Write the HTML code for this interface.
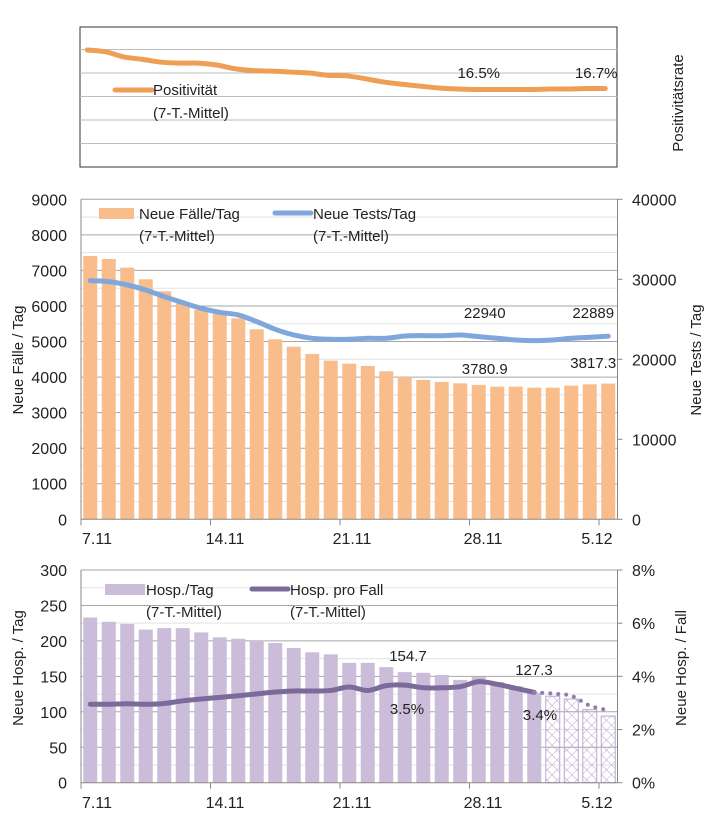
<!DOCTYPE html>
<html><head><meta charset="utf-8"><style>
html,body{margin:0;padding:0;background:#fff;}
svg{display:block;font-family:"Liberation Sans Narrow","Liberation Sans",sans-serif;}
.t{font-size:16px;fill:#222;}
.l{font-size:15px;fill:#222;}
.at{font-size:15px;fill:#222;font-family:"Liberation Sans",sans-serif;}
</style></head><body>
<svg id="c" width="709" height="833" viewBox="0 0 709 833">
<defs>
<pattern id="hatch" width="7" height="7" patternUnits="userSpaceOnUse" patternTransform="rotate(45)">
<line x1="0" y1="0" x2="0" y2="7" stroke="#b9a8cf" stroke-width="1"/>
<line x1="0" y1="3.5" x2="7" y2="3.5" stroke="#b9a8cf" stroke-width="0.6"/>
</pattern>
</defs>
<g id="top"></g><g id="mid"></g><g id="bot"></g>
</svg>
<script>
// shared categories (daily, 7.11 - 5.12)
const days = 29;
const xTickLabels = ["7.11","14.11","21.11","28.11","5.12"];
// top panel
const positivity = [24.9,24.5,23.4,22.9,22.3,22.1,22.1,21.7,20.9,20.5,20.4,20.2,20.0,19.5,19.4,18.8,18.1,17.6,17.2,16.8,16.6,16.5,16.5,16.5,16.5,16.6,16.6,16.7,16.7];
// middle panel
const cases = [7406,7322,7078,6750,6413,6075,5888,5775,5653,5344,5063,4856,4650,4463,4378,4313,4163,4003,3919,3863,3825,3781,3731,3731,3703,3703,3759,3797,3817];
const tests = [29833,29708,29292,28667,27833,27083,26375,25875,25542,24708,23750,23042,22625,22500,22500,22625,22625,22917,22958,22940,23042,22833,22625,22417,22333,22417,22625,22750,22889];
const casesTicks = [0,1000,2000,3000,4000,5000,6000,7000,8000,9000];
const testsTicks = [0,10000,20000,30000,40000];
// bottom panel
const hosp = [233,227,224,216,218,218,212,205,203,200,197,190,184,181,169,169,163,156,155,152,145,149,142,136,127];
const hospProj = [122,118,103,94];
const hospPerCase = [2.95,2.95,2.97,2.95,2.98,3.08,3.15,3.21,3.27,3.34,3.41,3.45,3.45,3.47,3.60,3.47,3.65,3.67,3.57,3.57,3.61,3.80,3.70,3.55,3.40];
const hospPerCaseProj = [3.35,3.27,2.90,2.72];
const hospTicks = [0,50,100,150,200,250,300];
const pctTicks = [0,2,4,6,8];

const NS="http://www.w3.org/2000/svg";
function mk(parent,tag,attrs,text){const e=document.createElementNS(NS,tag);for(const k in attrs)e.setAttribute(k,attrs[k]);if(text!==undefined)e.textContent=text;parent.appendChild(e);return e;}
const X0=81,X1=617.5,BW=(X1-X0)/days;
const xc=i=>X0+BW*(i+0.5);
function smooth(pts){let d="M"+pts[0][0]+","+pts[0][1];for(let i=0;i<pts.length-1;i++){const p0=pts[i-1]||pts[i],p1=pts[i],p2=pts[i+1],p3=pts[i+2]||p2;const c1x=p1[0]+(p2[0]-p0[0])/6,c1y=p1[1]+(p2[1]-p0[1])/6,c2x=p2[0]-(p3[0]-p1[0])/6,c2y=p2[1]-(p3[1]-p1[1])/6;d+=` C${c1x},${c1y} ${c2x},${c2y} ${p2[0]},${p2[1]}`;}return d;}

// ---- TOP ----
const gT=document.getElementById('top');

const yP=v=>167-v*4.7;
mk(gT,'rect',{x:80,y:27,width:537,height:140,fill:'#fff',stroke:'#333','stroke-width':1});
[5,10,15,20,25].forEach(v=>{const l=mk(gT,'line',{x1:80,x2:617,y1:yP(v),y2:yP(v),stroke:'#bdbdbd','stroke-width':1});
});
const pl=mk(gT,'path',{d:smooth(positivity.map((v,i)=>[xc(i)-3,yP(v)])),fill:'none',stroke:'#ef9f55','stroke-width':5,'stroke-linecap':'round'});

mk(gT,'line',{x1:115,x2:152,y1:90,y2:90,stroke:'#ef9f55','stroke-width':5,'stroke-linecap':'round',});
mk(gT,'text',{x:153,y:95,class:'l',},'Positivität');
mk(gT,'text',{x:153,y:118,class:'l',},'(7-T.-Mittel)');
mk(gT,'text',{x:xc(21),y:78,class:'l','text-anchor':'middle',},positivity[21].toFixed(1)+'%');
mk(gT,'text',{x:xc(28)-12,y:78,class:'l','text-anchor':'middle',},positivity[28].toFixed(1)+'%');
mk(gT,'text',{class:'at','text-anchor':'middle',transform:'translate(683,103) rotate(-90)',},'Positivitätsrate');

// ---- MID ----
const gM=document.getElementById('mid');

const MT=199.3,MB=519.3;
const yC=v=>MB-v/9000*(MB-MT), yTs=v=>MB-v/40000*(MB-MT);
for(let v=500;v<9000;v+=1000)mk(gM,'line',{x1:X0,x2:X1,y1:yC(v),y2:yC(v),stroke:'#e3e3e3','stroke-width':1});
casesTicks.forEach(v=>{if(v>0)mk(gM,'line',{x1:X0,x2:X1,y1:yC(v),y2:yC(v),stroke:'#a6a6a6','stroke-width':1});
const t=mk(gM,'text',{x:67,y:yC(v)+6,class:'t','text-anchor':'end'},v);});
testsTicks.forEach(v=>{mk(gM,'line',{x1:X1,x2:X1+5,y1:yTs(v),y2:yTs(v),stroke:'#888'});
const t=mk(gM,'text',{x:632,y:yTs(v)+6,class:'t'},v);});
cases.forEach((v,i)=>{const r=mk(gM,'rect',{x:xc(i)-7,y:yC(v),width:14,height:MB-yC(v),fill:'#f9bd8b'});
});
mk(gM,'line',{x1:X0,x2:X0,y1:MT,y2:MB+6,stroke:'#888'});
mk(gM,'line',{x1:X1,x2:X1,y1:MT,y2:MB,stroke:'#888'});
mk(gM,'line',{x1:X0,x2:X1,y1:MB,y2:MB,stroke:'#888'});
[0,7,14,21,28].forEach(i=>mk(gM,'line',{x1:X0+BW*i,x2:X0+BW*i,y1:MB,y2:MB+6,stroke:'#888'}));
const tl=mk(gM,'path',{d:smooth(tests.map((v,i)=>[xc(i),yTs(v)])),fill:'none',stroke:'#7fa7dc','stroke-width':5,'stroke-linecap':'round'});

const xlabPos=[97,225,352,483,597];
xTickLabels.forEach((s,k)=>{const t=mk(gM,'text',{x:xlabPos[k],y:544,class:'t','text-anchor':'middle'},s);});
mk(gM,'rect',{x:99,y:208,width:35,height:11,fill:'#f9bd8b',});
mk(gM,'text',{x:139,y:219,class:'l',},'Neue Fälle/Tag');
mk(gM,'text',{x:139,y:241,class:'l',},'(7-T.-Mittel)');
mk(gM,'line',{x1:275,x2:311,y1:213,y2:213,stroke:'#7fa7dc','stroke-width':5,'stroke-linecap':'round',});
mk(gM,'text',{x:313,y:219,class:'l',},'Neue Tests/Tag');
mk(gM,'text',{x:313,y:241,class:'l',},'(7-T.-Mittel)');
mk(gM,'text',{x:xc(21)+6,y:318,class:'l','text-anchor':'middle',},'22940');
mk(gM,'text',{x:xc(28)-15,y:318,class:'l','text-anchor':'middle',},'22889');
mk(gM,'text',{x:xc(21)+6,y:374,class:'l','text-anchor':'middle',},'3780.9');
mk(gM,'text',{x:xc(28)-15,y:368,class:'l','text-anchor':'middle',},'3817.3');
mk(gM,'text',{class:'at','text-anchor':'middle',transform:'translate(23,360) rotate(-90)',},'Neue Fälle / Tag');
mk(gM,'text',{class:'at','text-anchor':'middle',transform:'translate(701,360) rotate(-90)',},'Neue Tests / Tag');

// ---- BOTTOM ----
const gB=document.getElementById('bot');

const BT=570,BB=782.7;
const yH=v=>BB-v/300*(BB-BT), yPc=v=>BB-v/8*(BB-BT);
for(let v=25;v<300;v+=50)mk(gB,'line',{x1:X0,x2:X1,y1:yH(v),y2:yH(v),stroke:'#e3e3e3','stroke-width':1});
hospTicks.forEach(v=>{if(v>0)mk(gB,'line',{x1:X0,x2:X1,y1:yH(v),y2:yH(v),stroke:'#a6a6a6','stroke-width':1});
const t=mk(gB,'text',{x:67,y:yH(v)+6,class:'t','text-anchor':'end'},v);});
pctTicks.forEach(v=>{mk(gB,'line',{x1:X1,x2:X1+5,y1:yPc(v),y2:yPc(v),stroke:'#888'});
const t=mk(gB,'text',{x:632,y:yPc(v)+6,class:'t'},v+'%');});
hosp.forEach((v,i)=>{const r=mk(gB,'rect',{x:xc(i)-7,y:yH(v),width:14,height:BB-yH(v),fill:'#cbbdda'});
});
hospProj.forEach((v,k)=>{const i=hosp.length+k;const r=mk(gB,'rect',{x:xc(i)-7,y:yH(v),width:14,height:BB-yH(v),fill:'url(#hatch)',stroke:'#b9a8cf','stroke-width':1});
});
mk(gB,'line',{x1:X0,x2:X0,y1:BT,y2:BB+6,stroke:'#888'});
mk(gB,'line',{x1:X1,x2:X1,y1:BT,y2:BB,stroke:'#888'});
mk(gB,'line',{x1:X0,x2:X1,y1:BB,y2:BB,stroke:'#888'});
[0,7,14,21,28].forEach(i=>mk(gB,'line',{x1:X0+BW*i,x2:X0+BW*i,y1:BB,y2:BB+6,stroke:'#888'}));
const hl=mk(gB,'path',{d:smooth(hospPerCase.map((v,i)=>[xc(i),yPc(v)])),fill:'none',stroke:'#7d6a9a','stroke-width':5,'stroke-linecap':'round'});

const projPts=[[xc(hospPerCase.length-1),yPc(hospPerCase[hospPerCase.length-1])]].concat(hospPerCaseProj.map((v,k)=>[xc(hospPerCase.length+k),yPc(v)]));
const hd=mk(gB,'path',{d:smooth(projPts),fill:'none',stroke:'#8f7daa','stroke-width':4,'stroke-linecap':'round','stroke-dasharray':'0 8'});

xTickLabels.forEach((s,k)=>{const t=mk(gB,'text',{x:xlabPos[k],y:808,class:'t','text-anchor':'middle'},s);});
mk(gB,'rect',{x:105,y:584,width:40,height:11,fill:'#cbbdda',});
mk(gB,'text',{x:146,y:595,class:'l',},'Hosp./Tag');
mk(gB,'text',{x:146,y:617,class:'l',},'(7-T.-Mittel)');
mk(gB,'line',{x1:252,x2:288,y1:589,y2:589,stroke:'#7d6a9a','stroke-width':5,'stroke-linecap':'round',});
mk(gB,'text',{x:290,y:595,class:'l',},'Hosp. pro Fall');
mk(gB,'text',{x:290,y:617,class:'l',},'(7-T.-Mittel)');
mk(gB,'text',{x:408,y:661,class:'l','text-anchor':'middle',},'154.7');
mk(gB,'text',{x:534,y:675,class:'l','text-anchor':'middle',},'127.3');
mk(gB,'text',{x:407,y:714,class:'l','text-anchor':'middle',},'3.5%');
mk(gB,'text',{x:540,y:720,class:'l','text-anchor':'middle',},'3.4%');
mk(gB,'text',{class:'at','text-anchor':'middle',transform:'translate(23,668) rotate(-90)',},'Neue Hosp. / Tag');
mk(gB,'text',{class:'at','text-anchor':'middle',transform:'translate(686,668) rotate(-90)',},'Neue Hosp. / Fall');
</script>
</body></html>
